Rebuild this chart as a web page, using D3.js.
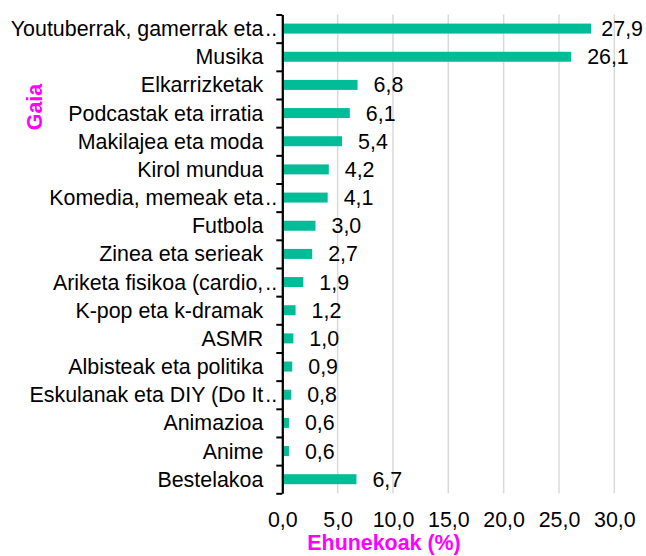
<!DOCTYPE html>
<html>
<head>
<meta charset="utf-8">
<script src="https://cdn.jsdelivr.net/npm/d3@7"></script>
<style>
  body { margin: 0; background: #fff; }
  text { font-family: "Liberation Sans", Arial, sans-serif; }
</style>
</head>
<body>
<svg id="chart" width="646" height="556"></svg>
<script>
// Data
const categories = [
  "Youtuberrak, gamerrak eta…",
  "Musika",
  "Elkarrizketak",
  "Podcastak eta irratia",
  "Makilajea eta moda",
  "Kirol mundua",
  "Komedia, memeak eta…",
  "Futbola",
  "Zinea eta serieak",
  "Ariketa fisikoa (cardio,…",
  "K-pop eta k-dramak",
  "ASMR",
  "Albisteak eta politika",
  "Eskulanak eta DIY (Do It…",
  "Animazioa",
  "Anime",
  "Bestelakoa"
];
const values = [27.9, 26.1, 6.8, 6.1, 5.4, 4.2, 4.1, 3.0, 2.7, 1.9, 1.2, 1.0, 0.9, 0.8, 0.6, 0.6, 6.7];
const xTicks = [0, 5, 10, 15, 20, 25, 30];

const W = 646;
const plot = { left: 282.3, right: 614.3, top: 14.5, bottom: 493.3 };
const barColor = "#00bc97";
const fontSize = "21.4px";
const fmt = (v) => d3.format(".1f")(v).replace(".", ",");

const svg = d3.select("#chart");
const data = categories.map((c, i) => ({ cat: c, val: values[i] }));

// Scales
const xScale = d3.scaleLinear().domain([0, 30]).range([plot.left, plot.right]);
const yScale = d3.scaleBand().domain(categories).range([plot.top, plot.bottom]).padding(0);
const yEdge = d3.scaleLinear().domain([0, categories.length]).range([plot.top, plot.bottom]);
const barH = yScale.bandwidth() * 0.355;

// Gridlines
svg.append("g")
  .selectAll("line")
  .data(xTicks.filter((t) => t > 0))
  .join("line")
  .attr("x1", (d) => xScale(d))
  .attr("x2", (d) => xScale(d))
  .attr("y1", plot.top)
  .attr("y2", plot.bottom)
  .attr("stroke", "#d9d9d9")
  .attr("stroke-width", 1.5);

// Bars
svg.append("g")
  .selectAll("rect")
  .data(data)
  .join("rect")
  .attr("x", xScale(0))
  .attr("y", (d) => yScale(d.cat) + yScale.bandwidth() / 2 - barH / 2)
  .attr("width", (d) => xScale(d.val) - xScale(0))
  .attr("height", barH)
  .attr("fill", barColor);

// Value labels
svg.append("g")
  .selectAll("text")
  .data(data)
  .join("text")
  .attr("x", (d) => xScale(d.val) + 16)
  .attr("y", (d) => yScale(d.cat) + yScale.bandwidth() / 2)
  .attr("dy", "0.35em")
  .style("font-size", fontSize)
  .style("fill", "#000")
  .text((d) => fmt(d.val))
  .each(function () {
    const len = this.getComputedTextLength();
    const x = +d3.select(this).attr("x");
    if (x + len > W - 3) d3.select(this).attr("x", W - 3 - len);
  });

// Y axis (ticks at category boundaries)
const gy = svg.append("g")
  .attr("transform", `translate(${plot.left},0)`)
  .call(d3.axisLeft(yEdge).ticks(categories.length).tickFormat("").tickSize(6).tickSizeOuter(0));
gy.select(".domain").attr("stroke", "#000").attr("stroke-width", 2.25);
gy.selectAll(".tick line").attr("stroke", "#000").attr("stroke-width", 2);

// Category labels
const labelX = plot.left - 19;
const gl = svg.append("g");
data.forEach((d) => {
  const cy = yScale(d.cat) + yScale.bandwidth() / 2;
  const truncated = d.cat.endsWith("…");
  const main = truncated ? d.cat.slice(0, -1) : d.cat;
  gl.append("text")
    .attr("x", labelX)
    .attr("y", cy)
    .attr("dy", "0.35em")
    .attr("text-anchor", "end")
    .style("font-size", fontSize)
    .text(main);
  if (truncated) {
    gl.append("text")
      .attr("x", labelX + 2)
      .attr("y", cy)
      .attr("dy", "0.35em")
      .style("font-size", fontSize)
      .text("..");
  }
});

// X axis labels
const gx = svg.append("g")
  .attr("transform", `translate(0,${plot.bottom})`)
  .call(d3.axisBottom(xScale).tickValues(xTicks).tickFormat(fmt).tickSize(0).tickPadding(19));
gx.select(".domain").remove();
gx.selectAll("text")
  .style("font-size", fontSize)
  .style("font-family", "'Liberation Sans', Arial, sans-serif")
  .style("fill", "#000");

// Axis titles
svg.append("text")
  .attr("x", 384)
  .attr("y", 550)
  .attr("text-anchor", "middle")
  .style("font-size", fontSize)
  .style("font-weight", "bold")
  .style("fill", "#ff00ff")
  .text("Ehunekoak (%)");

svg.append("text")
  .attr("transform", "translate(42,107) rotate(-90)")
  .attr("text-anchor", "middle")
  .style("font-size", fontSize)
  .style("font-weight", "bold")
  .style("fill", "#ff00ff")
  .text("Gaia");
</script>
</body>
</html>
